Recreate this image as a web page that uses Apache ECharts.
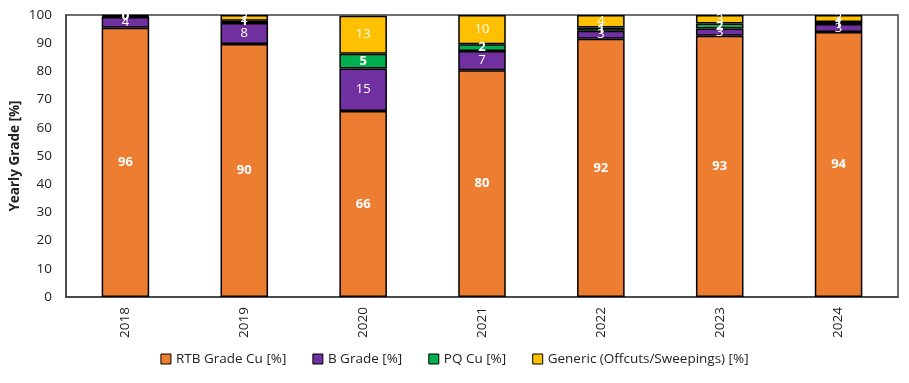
<!DOCTYPE html>
<html><head><meta charset="utf-8">
<script src="https://cdn.jsdelivr.net/npm/echarts@6/dist/echarts.min.js"></script>
<style>html,body{margin:0;padding:0;background:#fff}#c{width:909px;height:383px}</style>
</head><body><div id="c"></div>
<script>
const categories = ['2018','2019','2020','2021','2022','2023','2024'];
const rtb = [95.5, 89.7, 66.0, 80.4, 91.6, 92.6, 94.0];
const bGrade = [3.8, 7.5, 15.0, 6.8, 2.8, 2.6, 2.8];
const pqCu = [0.3, 0.8, 5.3, 2.4, 1.2, 1.8, 0.7];
const generic = [0.4, 2.0, 13.4, 10.4, 4.4, 3.0, 2.5];
const seriesNames = ['RTB Grade Cu [%]','B Grade [%]','PQ Cu [%]','Generic (Offcuts/Sweepings) [%]'];
const colors = ['#ED7D31','#7030A0','#00B050','#FFC000'];
const bold = ['bold','normal','bold','normal'];
const font = 'Open Sans, Liberation Sans, sans-serif';
const data = [rtb,bGrade,pqCu,generic];
const chart = echarts.init(document.getElementById('c'));
chart.setOption({
  animation:false,
  textStyle:{fontFamily:font},
  grid:{left:66,right:11,top:15,bottom:86,show:true,borderColor:'#404040',borderWidth:1.5,outerBoundsMode:'none'},
  legend:{bottom:12,left:'center',itemWidth:10,itemHeight:10,itemGap:26,icon:'rect',
    textStyle:{fontSize:13.5,color:'#222',fontFamily:font},
    data:seriesNames.map((n,i)=>({name:n,itemStyle:{borderColor:'#000',borderWidth:1}}))},
  xAxis:{type:'category',data:categories,axisTick:{show:false},
    axisLine:{lineStyle:{color:'#404040',width:1.5}},
    axisLabel:{rotate:90,fontSize:13.5,color:'#222',margin:10}},
  yAxis:{type:'value',min:0,max:100,interval:10,name:'Yearly Grade [%]',nameLocation:'middle',nameGap:44,nameMoveOverlap:false,
    nameTextStyle:{fontSize:13.5,fontWeight:'bold',color:'#222'},
    splitLine:{show:false},axisLine:{show:true,lineStyle:{color:'#404040',width:1.5}},axisTick:{show:false},
    axisLabel:{fontSize:13.5,color:'#222',margin:14}},
  series:data.map((d,i)=>({
    name:seriesNames[i],type:'bar',stack:'a',barWidth:'40%',data:d,
    itemStyle:{color:colors[i],borderColor:'#000',borderWidth:1.5},
    label:{show:true,position:'inside',color:'#fff',fontSize:13,fontWeight:bold[i],
      formatter:p=>Math.round(p.value)}
  }))
});
</script></body></html>
